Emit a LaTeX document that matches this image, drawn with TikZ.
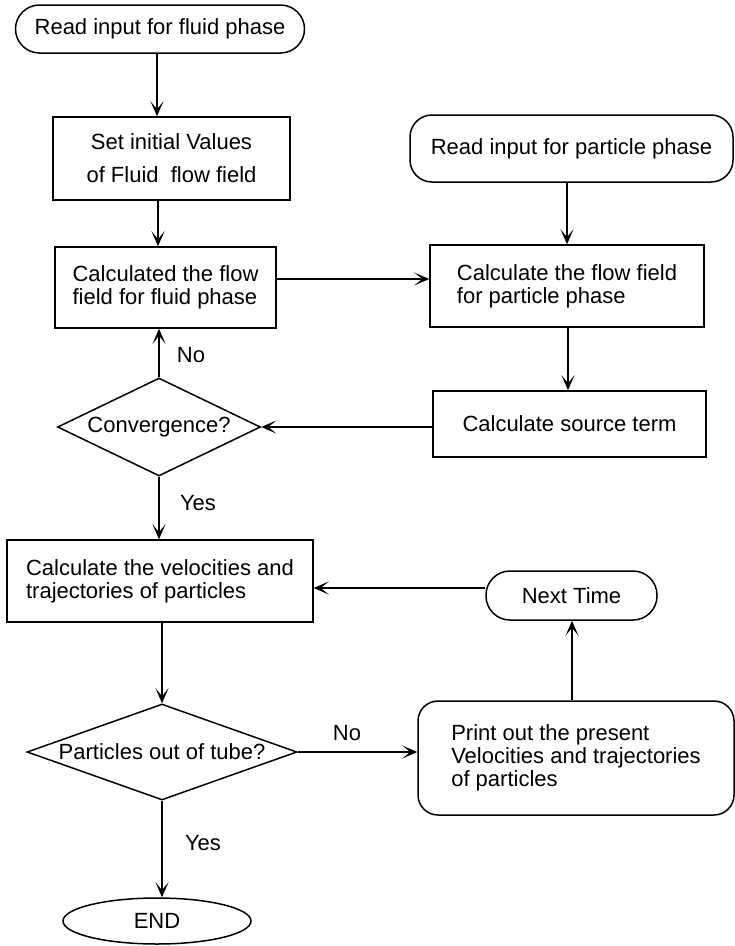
\documentclass[tikz,border=0pt]{standalone}
\usepackage{fontspec}
\setmainfont{Liberation Sans}
\usetikzlibrary{arrows.meta,shapes.geometric}
\begin{document}
\begin{tikzpicture}[x=1pt,y=-1pt,
  font=\fontsize{22}{23}\selectfont,
  box/.style={draw, rectangle, inner sep=0pt, line width=1.5pt},
  term/.style={draw, rectangle, rounded corners=#1, inner sep=0pt, line width=1.5pt},
  decide/.style={draw, diamond, inner sep=0pt, line width=1.5pt},
  stopnode/.style={draw, ellipse, inner sep=0pt, line width=1.5pt},
  arr/.style={-{Stealth[length=15pt,width=13pt,inset=8pt]}, line width=1.5pt}
]
\useasboundingbox (0,0) rectangle (735,946);

\node[term=24pt, minimum width=289pt, minimum height=48pt] (n1) at (160,29) {Read input for fluid phase};
\node[box, minimum width=237pt, minimum height=83pt, align=center] (n2) at (171.5,158.5) {Set initial Values\\[10pt]of Fluid\ \ flow field};
\node[box, minimum width=221pt, minimum height=81pt, align=left] (n3) at (165.5,287.5) {Calculated the flow\\field for fluid phase};
\node[term=22pt, minimum width=323pt, minimum height=67pt] (n4) at (571.5,148.5) {Read input for particle phase};
\node[box, minimum width=274pt, minimum height=82pt, align=left] (n5) at (567,286) {Calculate the flow field\\for particle phase};
\node[box, minimum width=273pt, minimum height=66pt] (n6) at (569.5,424) {Calculate source term};
\node[decide, minimum width=203pt, minimum height=98pt] (d1) at (159,427) {\makebox[0pt]{Convergence?}};
\node[box, minimum width=306pt, minimum height=82pt, align=left] (n7) at (160,581) {Calculate the velocities and\\trajectories of particles};
\node[term=24pt, minimum width=171pt, minimum height=49pt] (n8) at (571.5,595.5) {Next Time};
\node[decide, minimum width=270pt, minimum height=96pt] (d2) at (162,752) {\makebox[0pt]{Particles out of tube?}};
\node[term=20pt, minimum width=316pt, minimum height=114pt, align=left] (n9) at (576,758) {Print out the present\\Velocities and trajectories\\of particles};
\node[stopnode, minimum width=188pt, minimum height=46pt] (n10) at (157,921) {END};

\node (l1) at (191,355) {No};
\node (l2) at (198,503) {Yes};
\node (l3) at (347,733) {No};
\node (l4) at (203,843) {Yes};

\draw[arr] (n1.south -| 157,0) -- (n2.north -| 157,0);
\draw[arr] (n2.south -| 158,0) -- (n3.north -| 158,0);
\draw[arr] (n3.east |- 0,279) -- (n5.west |- 0,279);
\draw[arr] (n4.south -| 567,0) -- (n5.north -| 567,0);
\draw[arr] (n5.south -| 568,0) -- (n6.north -| 568,0);
\draw[arr] (n6.west |- d1.east) -- (d1.east);
\draw[arr] (d1.north) -- (n3.south -| d1.north);
\draw[arr] (d1.south) -- (n7.north -| d1.south);
\draw[arr] (n8.west |- 0,588) -- (n7.east |- 0,588);
\draw[arr] (n7.south -| d2.north) -- (d2.north);
\draw[arr] (d2.east) -- (n9.west |- d2.east);
\draw[arr] (n9.north -| 572,0) -- (n8.south -| 572,0);
\draw[arr] (d2.south) -- (d2.south |- n10.north);
\end{tikzpicture}
\end{document}
